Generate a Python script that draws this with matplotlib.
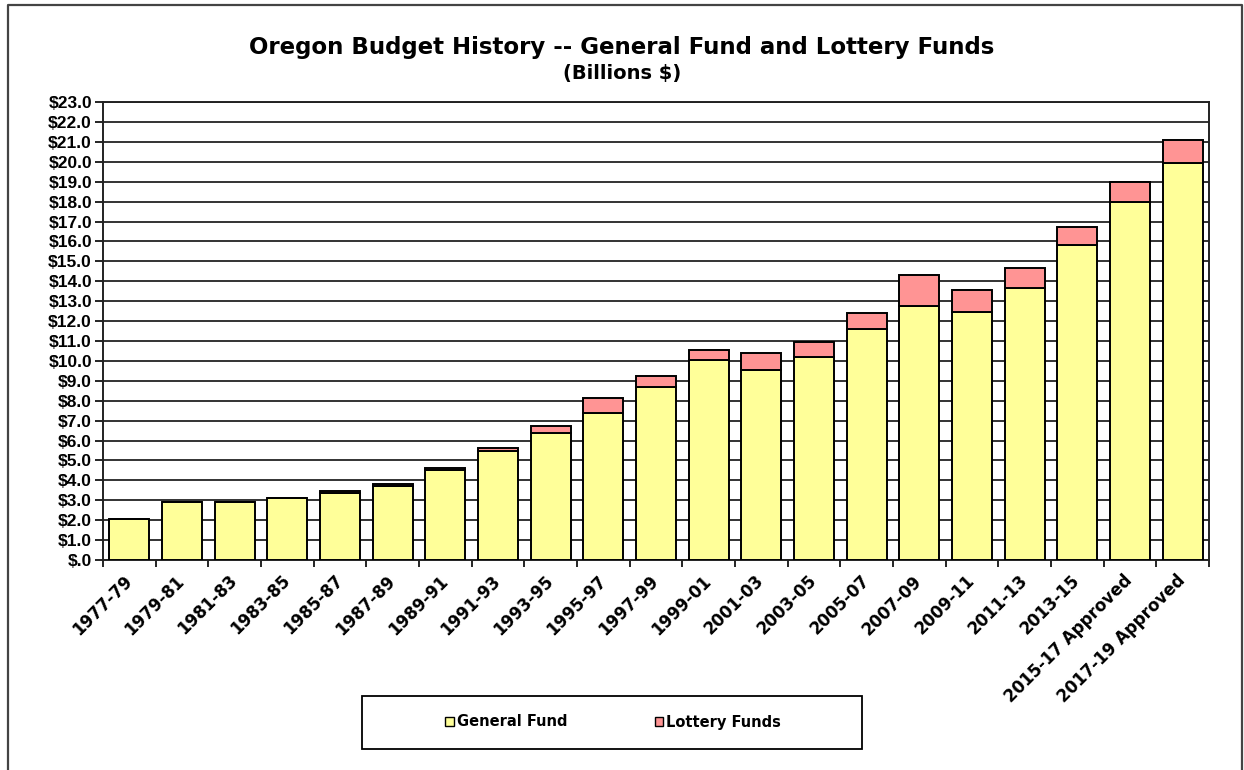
import matplotlib.pyplot as plt
from matplotlib.lines import Line2D
from matplotlib.patches import Patch, Rectangle
import numpy as np

plt.rcParams['font.family'] = ['DejaVu Sans']
plt.rcParams['font.weight'] = 'bold'

# biennial budgets, billions of dollars
periods = ["1977-79", "1979-81", "1981-83", "1983-85", "1985-87", "1987-89",
           "1989-91", "1991-93", "1993-95", "1995-97", "1997-99", "1999-01",
           "2001-03", "2003-05", "2005-07", "2007-09", "2009-11", "2011-13",
           "2013-15", "2015-17 Approved", "2017-19 Approved"]
general_fund = [2.08, 2.93, 2.93, 3.11, 3.38, 3.72, 4.53, 5.46, 6.36, 7.37, 8.71,
                10.06, 9.52, 10.2, 11.6, 12.78, 12.46, 13.67, 15.83, 18.0, 19.96]
lottery_funds = [0.0, 0.0, 0.0, 0.0, 0.08, 0.08, 0.08, 0.15, 0.35, 0.75, 0.55,
                 0.49, 0.9, 0.76, 0.8, 1.51, 1.08, 1.01, 0.88, 0.99, 1.15]

yellow = "#FFFF99"
pink = "#FF9494"

fig = plt.figure(figsize=(12.44, 7.7), dpi=100)
ax = fig.add_axes([0.0828, 0.2727, 0.889, 0.5948])

x = np.arange(len(periods))
ax.bar(x, general_fund, width=0.76, color=yellow, edgecolor="black",
       linewidth=1.4, zorder=3)
ax.bar(x, lottery_funds, width=0.76, bottom=general_fund, color=pink,
       edgecolor="black", linewidth=1.4, zorder=3)

ax.set_xlim(-0.5, len(periods) - 0.5)
ax.set_ylim(0, 23)
ax.set_yticks(np.arange(0, 24, 1))
ax.set_yticklabels(["$.0"] + [f"${v:.1f}" for v in range(1, 24)],
                   fontsize=12.5, family="Liberation Sans")
ax.yaxis.grid(True, color="#333333", linewidth=1.4, zorder=0)
ax.tick_params(axis="y", direction="out", length=6, width=1.2, pad=2)

ax.set_xticks(x)
ax.set_xticklabels(periods, rotation=45, ha="right", va="center",
                   rotation_mode="anchor", fontsize=12)
ax.tick_params(axis="x", which="major", length=0, pad=13)
ax.set_xticks(np.arange(-0.5, len(periods), 1), minor=True)
ax.tick_params(axis="x", which="minor", direction="out", length=5, width=1.2)

for side in ["left", "right", "bottom", "top"]:
    ax.spines[side].set_color("#222222")
    ax.spines[side].set_linewidth(1.4)

fig.text(0.5, 0.938, "Oregon Budget History -- General Fund and Lottery Funds",
         ha="center", va="center", fontsize=16.5, weight="bold")
fig.text(0.5, 0.905, "(Billions $)", ha="center", va="center",
         fontsize=14, weight="bold")

# legend frame and entries
fig.add_artist(Rectangle((362 / 1244, 1 - 749 / 770), 500 / 1244, 53 / 770,
                         transform=fig.transFigure, facecolor="white",
                         edgecolor="black", linewidth=1.3))
handles = [Patch(facecolor=yellow, edgecolor="black", linewidth=1.0),
           Patch(facecolor=pink, edgecolor="black", linewidth=1.0)]
fig.legend(handles, ["General Fund", "Lottery Funds"], ncol=2,
           loc="center", bbox_to_anchor=(613 / 1244, 1 - 722 / 770),
           frameon=False, fontsize=10.5,
           handlelength=0.6, handleheight=0.55, handletextpad=0.2,
           columnspacing=6.0)

# outer chart border
fig.add_artist(Line2D([0.0065, 0.0065, 0.998, 0.998],
                      [0.0, 0.9935, 0.9935, 0.0],
                      transform=fig.transFigure, color="#444444", linewidth=1.6))

fig.savefig("out.png", dpi=100)
